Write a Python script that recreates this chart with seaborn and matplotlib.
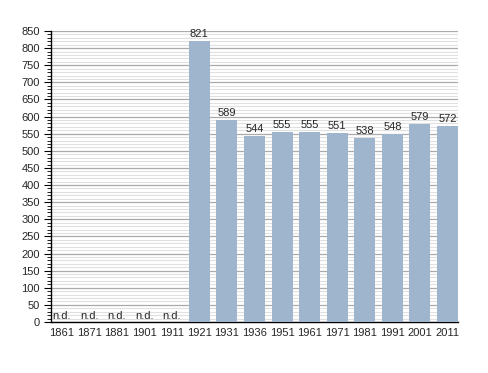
import numpy as np
import pandas as pd
import matplotlib
matplotlib.use("Agg")
import matplotlib.pyplot as plt
import seaborn as sns
from matplotlib.ticker import MultipleLocator

years = ["1861", "1871", "1881", "1901", "1911", "1921", "1931", "1936",
         "1951", "1961", "1971", "1981", "1991", "2001", "2011"]
population = [np.nan, np.nan, np.nan, np.nan, np.nan, 821, 589, 544,
              555, 555, 551, 538, 548, 579, 572]
missing_label = "n.d."

sns.set_style("white")
plt.rcParams['font.family'] = ['Liberation Sans', 'DejaVu Sans']

df = pd.DataFrame({"year": years, "pop": population})

fig = plt.figure(figsize=(4.88, 3.73), dpi=100)
ax = fig.add_axes([51/488, 1 - 322/373, (458 - 51)/488, (322 - 31)/373])

ax.set_axisbelow(True)
sns.barplot(data=df, x="year", y="pop", order=years, color="#9fb5cd",
            width=0.76, saturation=1, ax=ax, zorder=3, edgecolor="none", linewidth=0)

ax.set_ylim(0, 850)
ax.set_xlim(-0.38, len(years) - 1 + 0.38)
ax.yaxis.set_major_locator(MultipleLocator(50))
ax.yaxis.set_minor_locator(MultipleLocator(10))
ax.grid(which="minor", axis="y", color="#e0e0e0", linewidth=0.8, zorder=0)
ax.grid(which="major", axis="y", color="#aaaaaa", linewidth=0.9, zorder=1)
ax.grid(False, axis="x")

for s in ["top", "right"]:
    ax.spines[s].set_visible(False)
for s in ["left", "bottom"]:
    ax.spines[s].set_color("black")
    ax.spines[s].set_linewidth(1.0)

ax.tick_params(axis="y", which="major", length=5, width=0.8, color="black",
               labelsize=8, pad=3, left=True)
ax.tick_params(axis="y", which="minor", length=3, width=0.6, color="black", left=True)
ax.tick_params(axis="x", length=0, labelsize=8, pad=4)
ax.set_xlabel("")
ax.set_ylabel("")

for i, v in enumerate(population):
    if np.isnan(v):
        ax.text(i, 4, missing_label, ha="center", va="bottom", fontsize=8, zorder=5)
    else:
        ax.text(i, v + 6, f"{int(v)}", ha="center", va="bottom", fontsize=8, zorder=5)

fig.savefig("out.png", dpi=100)
